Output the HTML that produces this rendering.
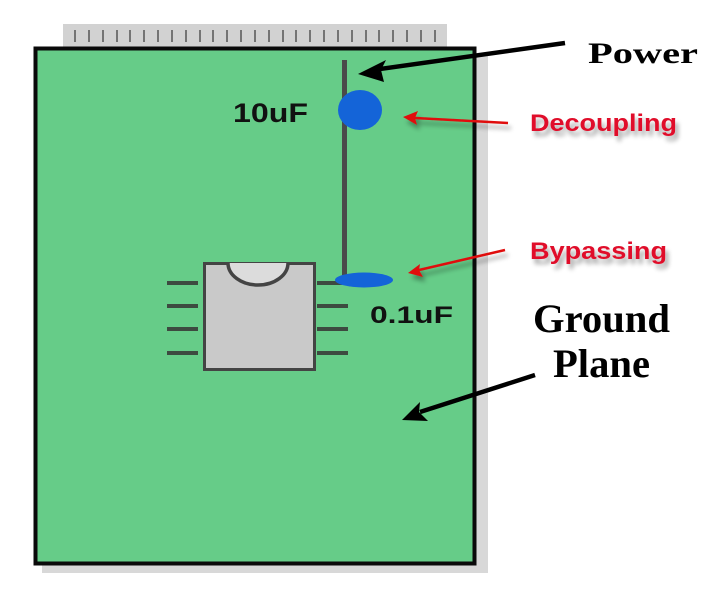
<!DOCTYPE html>
<html><head><meta charset="utf-8"><style>
html,body{margin:0;padding:0;background:#fff;}
svg{display:block;}
</style></head><body>
<svg width="720" height="590" viewBox="0 0 720 590" xmlns="http://www.w3.org/2000/svg">
<defs>
<filter id="ts" x="-20%" y="-40%" width="150%" height="200%"><feGaussianBlur in="SourceAlpha" stdDeviation="2.5"/><feOffset dx="3" dy="5"/><feComponentTransfer><feFuncA type="linear" slope="0.35"/></feComponentTransfer><feMerge><feMergeNode/><feMergeNode in="SourceGraphic"/></feMerge></filter>
</defs>
<!-- connector strip -->
<rect x="63" y="24" width="384" height="24" fill="#d2d2d2"/>
<g stroke="#555" stroke-width="1.5">
<path d="M75 30V42M89 30V42M103 30V42M117 30V42M130 30V42M144 30V42M158 30V42M172 30V42M186 30V42M200 30V42M213 30V42M227 30V42M241 30V42M255 30V42M269 30V42M283 30V42M296 30V42M310 30V42M324 30V42M338 30V42M352 30V42M366 30V42M379 30V42M393 30V42M407 30V42M421 30V42M435 30V42"/>
</g>
<!-- shadow -->
<rect x="42" y="55" width="446" height="518" fill="#d8d8d8"/>
<!-- board -->
<rect x="35.5" y="48.5" width="439" height="515" fill="#66cc88" stroke="#0a0a0a" stroke-width="4"/>
<!-- wire -->
<rect x="342" y="60" width="5" height="217" fill="#4a4a4a"/>
<!-- 10uF cap -->
<ellipse cx="360" cy="110" rx="22" ry="20" fill="#1464d8"/>
<!-- chip pins -->
<g fill="#3d4a40">
<rect x="167" y="281" width="31" height="4"/>
<rect x="167" y="304" width="31" height="4"/>
<rect x="167" y="327" width="31" height="4"/>
<rect x="167" y="351" width="31" height="4"/>
<rect x="317" y="281" width="31" height="4"/>
<rect x="317" y="304" width="31" height="4"/>
<rect x="317" y="327" width="31" height="4"/>
<rect x="317" y="351" width="31" height="4"/>
</g>
<!-- chip body -->
<rect x="204.5" y="263.5" width="110" height="106" fill="#c9c9c9" stroke="#444" stroke-width="3"/>
<path d="M228 263 A30 22 0 0 0 288 263 Z" fill="#dcdcdc"/>
<path d="M228 263 A30 22 0 0 0 288 263" fill="none" stroke="#444" stroke-width="3.5"/>
<!-- 0.1uF cap -->
<ellipse cx="364" cy="280" rx="29" ry="7.5" fill="#1464d8"/>
<!-- labels on board -->
<text x="233" y="122" font-family="Liberation Sans, sans-serif" font-weight="bold" font-size="27" fill="#111" textLength="75" lengthAdjust="spacingAndGlyphs">10uF</text>
<text x="370" y="323" font-family="Liberation Sans, sans-serif" font-weight="bold" font-size="24" fill="#111" textLength="83" lengthAdjust="spacingAndGlyphs">0.1uF</text>
<!-- Power arrow -->
<path d="M565 43 L380 69" stroke="#000" stroke-width="4.5" fill="none"/>
<path d="M358 74 L386 60 L381 70 L384 82 Z" fill="#000"/>
<text x="588" y="63" font-family="Liberation Serif, serif" font-weight="bold" font-size="30" fill="#000" textLength="110" lengthAdjust="spacingAndGlyphs">Power</text>
<!-- Decoupling -->
<g filter="url(#ts)">
<path d="M508 123 L415 118" stroke="#e01010" stroke-width="2.5" fill="none"/>
<path d="M403 117 L418 111 L415 118 L417 125 Z" fill="#e01010"/>
<text x="530" y="131" font-family="Liberation Sans, sans-serif" font-weight="bold" font-size="24" fill="#e0102a" textLength="147" lengthAdjust="spacingAndGlyphs">Decoupling</text>
</g>
<!-- Bypassing -->
<g filter="url(#ts)">
<path d="M505 250 L419 270" stroke="#e01010" stroke-width="2.5" fill="none"/>
<path d="M408 273 L420 264 L419 270 L423 277 Z" fill="#e01010"/>
<text x="530" y="259" font-family="Liberation Sans, sans-serif" font-weight="bold" font-size="24" fill="#e0102a" textLength="137" lengthAdjust="spacingAndGlyphs">Bypassing</text>
</g>
<!-- Ground plane -->
<text x="533" y="332" font-family="Liberation Serif, serif" font-weight="bold" font-size="40" fill="#000" textLength="137" lengthAdjust="spacingAndGlyphs">Ground</text>
<text x="553" y="377" font-family="Liberation Serif, serif" font-weight="bold" font-size="40" fill="#000" textLength="97" lengthAdjust="spacingAndGlyphs">Plane</text>
<path d="M535 375 L420 412" stroke="#000" stroke-width="4.5" fill="none"/>
<path d="M402 420 L420 402 L419 412 L428 421 Z" fill="#000"/>
</svg>
</body></html>
